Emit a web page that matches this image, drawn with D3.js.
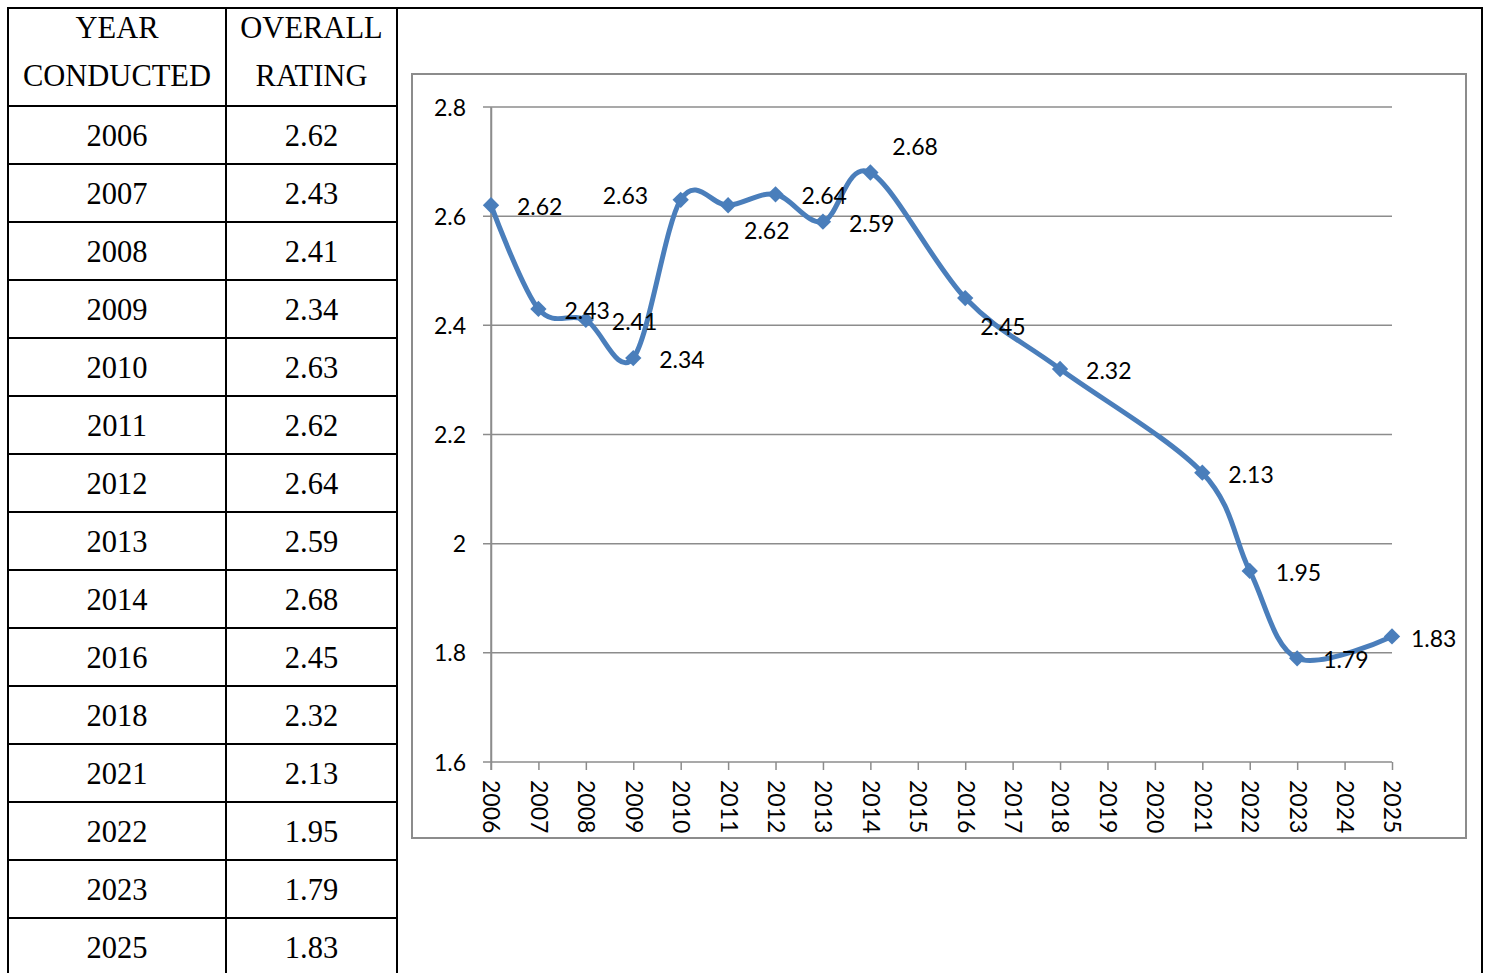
<!DOCTYPE html>
<html>
<head>
<meta charset="utf-8">
<script src="https://cdn.jsdelivr.net/npm/d3@7"></script>
<style>
  html, body { margin: 0; padding: 0; background: #fff; }
  svg { display: block; }
</style>
</head>
<body>
<svg id="chart" width="1487" height="973"></svg>
<script>
// ---------- DATA ----------
const tableHeaders = [["YEAR", "CONDUCTED"], ["OVERALL", "RATING"]];
const years = ["2006","2007","2008","2009","2010","2011","2012","2013","2014","2016","2018","2021","2022","2023","2025"];
const ratings = [2.62, 2.43, 2.41, 2.34, 2.63, 2.62, 2.64, 2.59, 2.68, 2.45, 2.32, 2.13, 1.95, 1.79, 1.83];
const axisYears = ["2006","2007","2008","2009","2010","2011","2012","2013","2014","2015","2016","2017","2018","2019","2020","2021","2022","2023","2024","2025"];
const yTicks = [1.6, 1.8, 2.0, 2.2, 2.4, 2.6, 2.8];

// ---------- LAYOUT ----------
const svg = d3.select("#chart");
const W = 1487, H = 973;
const tbl = { left: 8, col1: 226, col2: 397, right: 1482, top: 8, headerBottom: 106, rowH: 58 };
const serif = "'Liberation Serif', 'Times New Roman', serif";
const sans = "Lato, 'Open Sans', 'Liberation Sans', sans-serif";
const tFont = 30.5;

// table lines
const tg = svg.append("g").attr("stroke", "#000").attr("stroke-width", 2);
tg.append("line").attr("x1", tbl.left).attr("x2", tbl.right).attr("y1", tbl.top).attr("y2", tbl.top);
[tbl.left, tbl.col1, tbl.col2, tbl.right].forEach(x =>
  tg.append("line").attr("x1", x).attr("x2", x).attr("y1", tbl.top - 1).attr("y2", H + 5));
const rowLines = d3.range(years.length).map(i => tbl.headerBottom + i * tbl.rowH);
tg.selectAll("line.row").data(rowLines).join("line").attr("class", "row")
  .attr("x1", tbl.left).attr("x2", tbl.col2).attr("y1", d => d).attr("y2", d => d);

const colCenters = [(tbl.left + tbl.col1) / 2, (tbl.col1 + tbl.col2) / 2];
tableHeaders.forEach((lines, c) => {
  lines.forEach((t, k) => {
    svg.append("text").attr("x", colCenters[c]).attr("y", 38 + k * 48)
      .attr("text-anchor", "middle").attr("font-family", serif).attr("font-size", tFont)
      .attr("fill", "#000").text(t);
  });
});
years.forEach((y, i) => {
  const base = tbl.headerBottom + i * tbl.rowH + 40;
  svg.append("text").attr("x", colCenters[0]).attr("y", base).attr("text-anchor", "middle")
    .attr("font-family", serif).attr("font-size", tFont).attr("fill", "#000").text(y);
  svg.append("text").attr("x", colCenters[1]).attr("y", base).attr("text-anchor", "middle")
    .attr("font-family", serif).attr("font-size", tFont).attr("fill", "#000").text(ratings[i].toFixed(2));
});

// ---------- CHART ----------
svg.append("rect").attr("x", 412).attr("y", 74).attr("width", 1054).attr("height", 764)
  .attr("fill", "#fff").attr("stroke", "#8c8c8c").attr("stroke-width", 2);

const x = d3.scalePoint().domain(axisYears).range([491, 1392]);
const y = d3.scaleLinear().domain([1.6, 2.8]).range([762, 107]);
const gridColor = "#8c8c8c";
const cFont = 23;

// gridlines
svg.append("g").selectAll("line").data(yTicks).join("line")
  .attr("x1", 483).attr("x2", 1392).attr("y1", d => y(d)).attr("y2", d => y(d))
  .attr("stroke", gridColor).attr("stroke-width", 1.5);

// y axis
const yAxis = d3.axisLeft(y).tickValues(yTicks).tickSize(0).tickPadding(25)
  .tickFormat(d => d3.format("")(+d.toFixed(1)));
const yg = svg.append("g").attr("transform", "translate(491,0)").call(yAxis);
yg.select(".domain").attr("stroke", gridColor).attr("stroke-width", 1.5);
yg.selectAll("text").attr("font-family", sans).attr("font-size", cFont).attr("fill", "#000")
  .attr("dy", "0.35em");

// x axis
const xAxis = d3.axisBottom(x).tickSize(8).tickPadding(0);
const xg = svg.append("g").attr("transform", "translate(0,762)").call(xAxis);
xg.select(".domain").remove();
xg.selectAll(".tick line").attr("stroke", gridColor).attr("stroke-width", 1.5);
xg.selectAll(".tick text")
  .attr("font-family", sans).attr("font-size", cFont).attr("fill", "#000")
  .attr("text-anchor", "start").attr("dy", "0.35em").attr("y", 0)
  .attr("transform", "translate(0,18) rotate(90)");
svg.append("line").attr("x1", 491).attr("x2", 491).attr("y1", 107).attr("y2", 770)
  .attr("stroke", gridColor).attr("stroke-width", 1.5);

// line
const pts = years.map((yr, i) => ({ yr, v: ratings[i] }));
const line = d3.line().x(d => x(d.yr)).y(d => y(d.v)).curve(d3.curveCardinal.tension(0));
const blue = "#4a7ebb";
svg.append("path").datum(pts).attr("d", line).attr("fill", "none")
  .attr("stroke", blue).attr("stroke-width", 5).attr("stroke-linejoin", "round");

// markers
svg.append("g").selectAll("path").data(pts).join("path")
  .attr("d", d3.symbol().type(d3.symbolDiamond2).size(170))
  .attr("transform", d => `translate(${x(d.yr)},${y(d.v)})`)
  .attr("fill", blue);

// data labels (Excel label placement offsets)
const labelShift = { "2010": [-78, -4], "2011": [16, 26], "2014": [22, -26], "2016": [15, 29], "2025": [19, 2] };
svg.append("g").selectAll("text").data(pts).join("text")
  .attr("x", d => x(d.yr) + (labelShift[d.yr] ? labelShift[d.yr][0] : 26))
  .attr("y", d => y(d.v) + (labelShift[d.yr] ? labelShift[d.yr][1] : 2))
  .attr("dy", "0.35em").attr("font-family", sans).attr("font-size", cFont).attr("fill", "#000")
  .text(d => d.v.toFixed(2));
</script>
</body>
</html>
